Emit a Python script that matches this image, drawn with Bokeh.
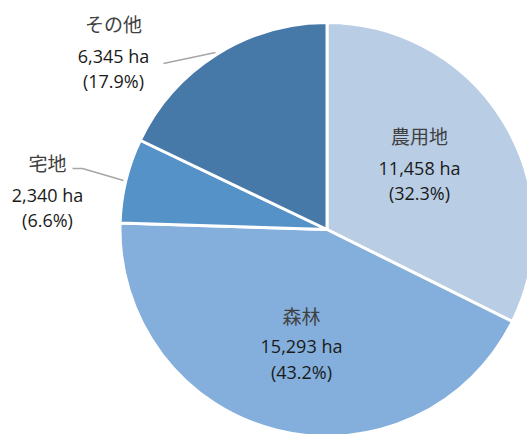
import math
from bokeh.plotting import figure
from bokeh.models import Range1d, ColumnDataSource
from bokeh.core.properties import value
from bokeh.embed import file_html
from bokeh.resources import INLINE

# ---- data ----
categories = ["農用地", "森林", "宅地", "その他"]
areas_ha = [11458, 15293, 2340, 6345]
colors = ["#B9CDE5", "#84AFDC", "#5592C8", "#4679A8"]

# ---- layout (page pixels -> data coords) ----
W, H = 527, 434
def X(px):
    return px
def Y(py):
    return H - py

cx, cy, R = X(326.5), Y(229), 207

total = sum(areas_ha)
fracs = [a / total for a in areas_ha]
starts, ends = [], []
cum = 0.0
for f in fracs:
    starts.append(math.pi / 2 - cum * 2 * math.pi)
    cum += f
    ends.append(math.pi / 2 - cum * 2 * math.pi)

p = figure(width=W, height=H, output_backend="svg", toolbar_location=None,
           x_range=Range1d(0, W), y_range=Range1d(0, H), min_border=0)
p.axis.visible = False
p.grid.visible = False
p.outline_line_color = None
p.background_fill_color = "white"
p.border_fill_color = "white"

src = ColumnDataSource(dict(start=starts, end=ends, color=colors))
p.wedge(x=cx, y=cy, radius=R, start_angle="start", end_angle="end",
        direction="clock", fill_color="color", line_color="white",
        line_width=3, source=src)

# label positions (page px): x, name row, value row, percent row
label_pos = [(419, 135, 167, 192), (301, 315, 345, 371),
             (47, 162, 194, 219), (113, 23, 55, 80)]
names_x, names_y, val_x, val_y, pct_y, val_txt, pct_txt = [], [], [], [], [], [], []
for cat, a, f, (lx, ny, vy, py) in zip(categories, areas_ha, fracs, label_pos):
    names_x.append(X(lx)); names_y.append(Y(ny))
    val_x.append(X(lx)); val_y.append(Y(vy)); pct_y.append(Y(py))
    val_txt.append(f"{a:,} ha")
    pct_txt.append(f"({f*100:.1f}%)")

p.text(x=names_x, y=names_y, text=categories, text_align="center",
       text_baseline="middle", text_font=value("Noto Sans CJK JP"),
       text_font_size="19px", text_color="#404040")
p.text(x=val_x, y=val_y, text=val_txt, text_align="center",
       text_baseline="middle", text_font=value("Open Sans"),
       text_font_size="18px", text_color="#1a1a1a")
p.text(x=val_x, y=pct_y, text=pct_txt, text_align="center",
       text_baseline="middle", text_font=value("Open Sans"),
       text_font_size="18px", text_color="#1a1a1a")

# leader lines
p.line(x=[X(163), X(215)], y=[Y(63), Y(52)], line_color="#A6A6A6", line_width=1.5)
p.line(x=[X(72), X(82), X(123)], y=[Y(168), Y(168), Y(180)],
       line_color="#A6A6A6", line_width=1.5)

open("out.html", "w").write(file_html(p, INLINE))
